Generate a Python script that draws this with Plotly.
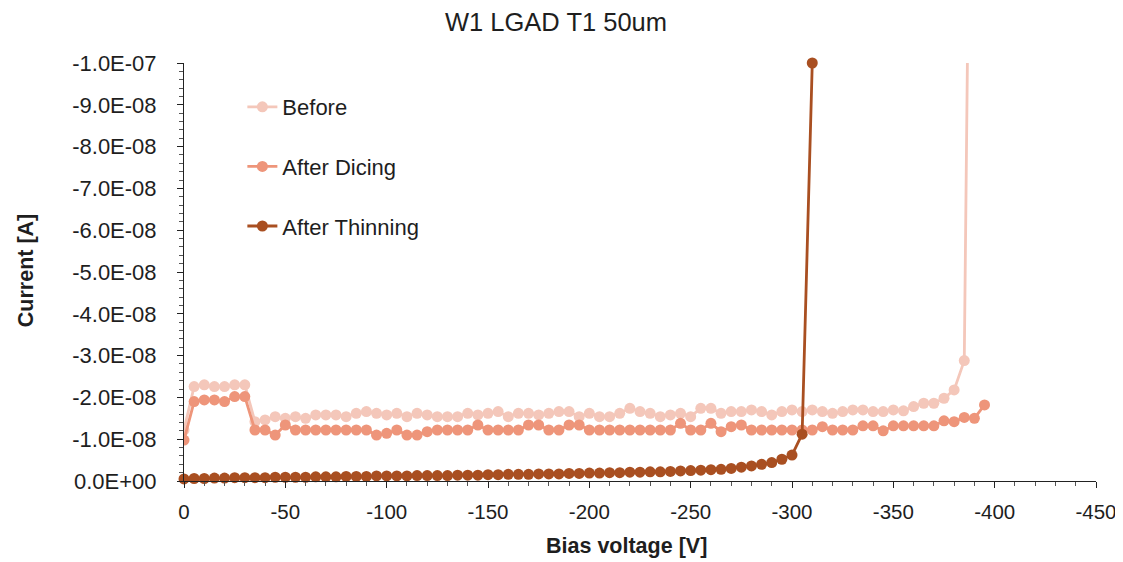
import plotly.graph_objects as go

# ---- data ----
voltage_before = [0, -5, -10, -15, -20, -25, -30, -35, -40, -45, -50, -55, -60, -65, -70, -75, -80, -85, -90, -95,
                  -100, -105, -110, -115, -120, -125, -130, -135, -140, -145, -150, -155, -160, -165, -170, -175,
                  -180, -185, -190, -195, -200, -205, -210, -215, -220, -225, -230, -235, -240, -245, -250, -255,
                  -260, -265, -270, -275, -280, -285, -290, -295, -300, -305, -310, -315, -320, -325, -330, -335,
                  -340, -345, -350, -355, -360, -365, -370, -375, -380, -385, -390]
current_before_nA = [-12.2, -22.6, -23.0, -22.6, -22.6, -23.0, -23.0, -14.2, -14.6, -15.4, -15.0, -15.4, -15.0,
                     -15.8, -15.8, -15.8, -15.4, -16.2, -16.6, -16.2, -15.8, -16.2, -15.4, -16.2, -15.8, -15.4,
                     -15.4, -15.4, -16.2, -15.8, -16.2, -16.6, -15.4, -16.2, -16.2, -15.8, -16.2, -16.6, -16.6,
                     -15.4, -16.2, -15.4, -15.4, -16.2, -17.4, -16.6, -16.2, -15.4, -15.8, -16.2, -15.4, -17.4,
                     -17.4, -16.2, -16.6, -16.6, -17.0, -16.6, -15.8, -16.6, -17.0, -16.6, -17.0, -16.6, -16.2,
                     -16.6, -17.0, -17.0, -16.6, -16.6, -17.0, -16.8, -17.8, -18.6, -18.6, -19.8, -21.8, -28.8,
                     -260.0]

voltage_dicing = [0, -5, -10, -15, -20, -25, -30, -35, -40, -45, -50, -55, -60, -65, -70, -75, -80, -85, -90, -95,
                  -100, -105, -110, -115, -120, -125, -130, -135, -140, -145, -150, -155, -160, -165, -170, -175,
                  -180, -185, -190, -195, -200, -205, -210, -215, -220, -225, -230, -235, -240, -245, -250, -255,
                  -260, -265, -270, -275, -280, -285, -290, -295, -300, -305, -310, -315, -320, -325, -330, -335,
                  -340, -345, -350, -355, -360, -365, -370, -375, -380, -385, -390, -395]
current_dicing_nA = [-9.8, -19.0, -19.4, -19.4, -19.0, -20.2, -20.2, -12.2, -12.2, -11.0, -13.4, -12.2, -12.2,
                     -12.2, -12.2, -12.2, -12.2, -12.2, -12.2, -11.0, -11.4, -12.2, -11.0, -11.0, -11.8, -12.2,
                     -12.2, -12.2, -12.2, -13.4, -12.2, -12.2, -12.2, -12.2, -13.4, -13.4, -12.2, -12.2, -13.4,
                     -13.4, -12.2, -12.2, -12.2, -12.2, -12.2, -12.2, -12.2, -12.2, -12.2, -13.8, -12.2, -12.2,
                     -13.8, -11.8, -13.0, -13.4, -12.2, -12.2, -12.2, -12.2, -12.2, -12.2, -12.2, -13.0, -12.2,
                     -12.2, -12.2, -13.2, -13.2, -12.0, -13.2, -13.2, -13.2, -13.2, -13.2, -14.4, -14.2, -15.2,
                     -15.0, -18.2]

voltage_thinning = [0, -5, -10, -15, -20, -25, -30, -35, -40, -45, -50, -55, -60, -65, -70, -75, -80, -85, -90,
                    -95, -100, -105, -110, -115, -120, -125, -130, -135, -140, -145, -150, -155, -160, -165, -170,
                    -175, -180, -185, -190, -195, -200, -205, -210, -215, -220, -225, -230, -235, -240, -245, -250,
                    -255, -260, -265, -270, -275, -280, -285, -290, -295, -300, -305, -310]
current_thinning_nA = [-0.5, -0.6, -0.6, -0.7, -0.7, -0.8, -0.8, -0.8, -0.8, -0.9, -0.9, -0.9, -0.9, -1.0, -1.0,
                       -1.0, -1.1, -1.1, -1.1, -1.2, -1.2, -1.2, -1.2, -1.3, -1.3, -1.3, -1.3, -1.4, -1.4, -1.4,
                       -1.5, -1.5, -1.6, -1.6, -1.6, -1.7, -1.7, -1.7, -1.8, -1.8, -1.9, -1.9, -2.0, -2.0, -2.1,
                       -2.1, -2.2, -2.2, -2.3, -2.4, -2.5, -2.6, -2.7, -2.8, -3.0, -3.3, -3.6, -4.0, -4.4, -5.2,
                       -6.2, -11.2, -100.0]

x_tick_vals = [0, -50, -100, -150, -200, -250, -300, -350, -400, -450]
x_tick_text = ["0", "-50", "-100", "-150", "-200", "-250", "-300", "-350", "-400", "-450"]
y_tick_vals = [0, -1e-8, -2e-8, -3e-8, -4e-8, -5e-8, -6e-8, -7e-8, -8e-8, -9e-8, -1e-7]
y_tick_text = ["0.0E+00", "-1.0E-08", "-2.0E-08", "-3.0E-08", "-4.0E-08", "-5.0E-08",
               "-6.0E-08", "-7.0E-08", "-8.0E-08", "-9.0E-08", "-1.0E-07"]

C_BEFORE = "#F4C7BA"
C_DICING = "#EE957A"
C_THIN = "#A94F21"
FONT = "Liberation Sans"
TXT = "#1e1e1e"

fig = go.Figure()
series = [
    ("Before", voltage_before, current_before_nA, C_BEFORE, True),
    ("After Dicing", voltage_dicing, current_dicing_nA, C_DICING, True),
    ("After Thinning", voltage_thinning, current_thinning_nA, C_THIN, False),
]
for name, xs, ys, col, clip in series:
    fig.add_trace(go.Scatter(
        x=xs, y=[v / 1e9 for v in ys], name=name, mode="lines+markers",
        line=dict(color=col, width=2.8),
        marker=dict(color=col, size=11),
        legendgroup=name, cliponaxis=clip,
    ))

fig.update_layout(
    width=1123, height=562,
    paper_bgcolor="white", plot_bgcolor="white",
    margin=dict(l=176, r=35, t=55, b=89, autoexpand=False),
    font=dict(family=FONT, color=TXT, size=20),
    title=dict(text="W1 LGAD T1 50um", x=0.488, xanchor="center", y=0.975, yanchor="middle",
               font=dict(family=FONT, size=25.5, color=TXT)),
    showlegend=True,
    legend=dict(x=0.064, y=0.945, xanchor="left", yanchor="top", bgcolor="rgba(0,0,0,0)",
                font=dict(family=FONT, size=22, color=TXT), tracegroupgap=28,
                itemwidth=30),
    annotations=[
        dict(text="<b>Bias voltage [V]</b>", xref="paper", yref="paper", x=0.4857, y=-0.1555,
             xanchor="center", yanchor="middle", showarrow=False,
             font=dict(family=FONT, size=21.5, color=TXT)),
        dict(text="<b>Current [A]</b>", xref="paper", yref="paper", x=-0.1732, y=0.502,
             xanchor="center", yanchor="middle", showarrow=False, textangle=-90,
             font=dict(family=FONT, size=21.5, color=TXT)),
    ],
)
fig.update_xaxes(
    automargin=False,
    range=[0, -450], tickmode="array", tickvals=x_tick_vals, ticktext=x_tick_text,
    showgrid=False, zeroline=False, showline=True, linecolor="#222222", linewidth=1,
    ticks="outside", ticklen=6, tickcolor="#222222", ticklabelstandoff=6,
    minor=dict(tickmode="linear", tick0=0, dtick=10, ticks="outside", ticklen=4, tickcolor="#555555", showgrid=False),
    tickfont=dict(family=FONT, size=20.5, color=TXT),
)
fig.update_yaxes(
    automargin=False,
    range=[0, -1e-7], tickmode="array", tickvals=y_tick_vals, ticktext=y_tick_text,
    showgrid=False, zeroline=False, showline=True, linecolor="#222222", linewidth=1,
    ticks="outside", ticklen=6, tickcolor="#222222", ticklabelstandoff=16,
    minor=dict(tickmode="linear", tick0=0, dtick=2e-9, ticks="outside", ticklen=4, tickcolor="#555555", showgrid=False),
    tickfont=dict(family=FONT, size=22, color=TXT),
)

fig.write_html("out.html")
